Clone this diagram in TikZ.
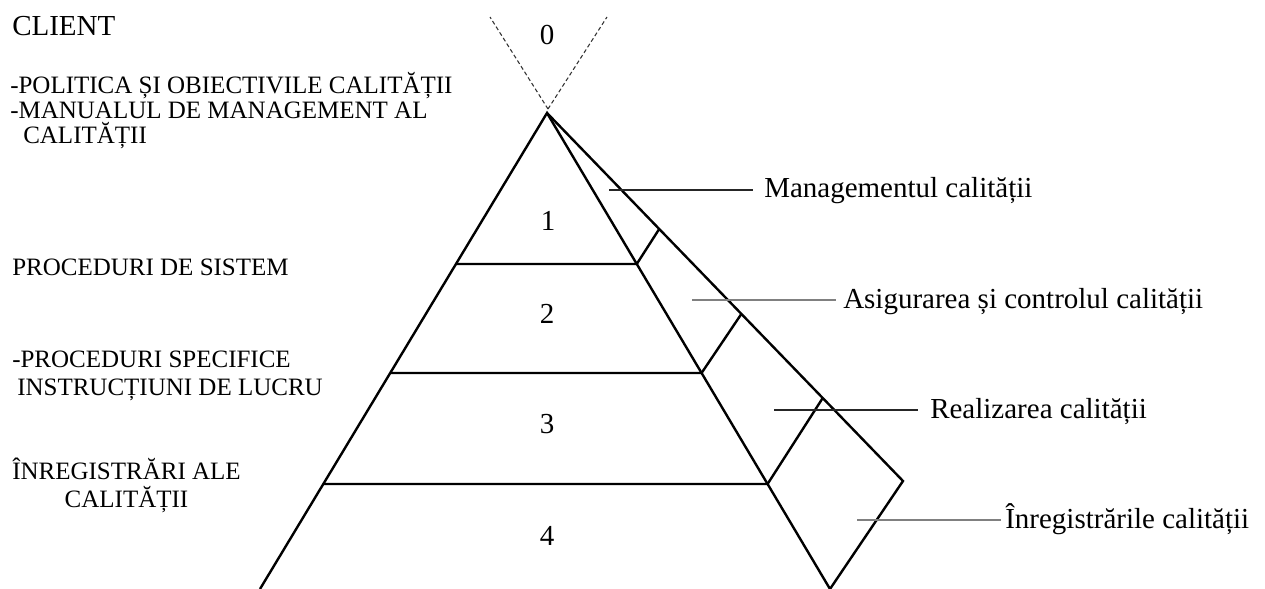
\documentclass[tikz,border=0pt]{standalone}
\usepackage{fontspec}
\setmainfont{Liberation Serif}
\usetikzlibrary{calc}
\begin{document}
\begin{tikzpicture}[x=0.75pt,y=-0.75pt,
  pyr/.style={line width=1.8pt, line join=miter, line cap=butt},
  dashv/.style={line width=0.8pt, dash pattern=on 3pt off 2pt, black!80},
  leaderdark/.style={line width=1.1pt, black!85},
  leadergray/.style={line width=1.2pt, black!50},
  num/.style={inner sep=0pt, anchor=base, font=\fontsize{21.75}{24}\selectfont},
  rlab/.style={inner ysep=0pt, anchor=base west, font=\fontsize{21.75}{24}\selectfont},
  llab/.style={inner sep=0pt, anchor=base west, font=\fontsize{18.75}{21}\selectfont}
]
\path[use as bounding box] (0,0) rectangle (1265,589);

% main points
\coordinate (A) at (547,113);
\coordinate (BL) at (260,589);
\coordinate (BR) at (830,589);
\coordinate (C) at (903,481);
\coordinate (V) at (548,109);
\coordinate (DL) at (490,17);
\coordinate (DR) at (607,17);

% dashed V
\draw[dashv] (V) -- (DL);
\draw[dashv] (V) -- (DR);

% pyramid
\draw[pyr] (BL) -- (A) -- (BR);
\draw[pyr] (A) -- (C) -- (BR);

\coordinate (L1) at ($(A)!0.3172!(BL)$);
\coordinate (R1) at ($(A)!0.3172!(BR)$);
\coordinate (O1) at ($(A)!0.3152!(C)$);
\coordinate (L2) at ($(A)!0.5462!(BL)$);
\coordinate (R2) at ($(A)!0.5462!(BR)$);
\coordinate (O2) at ($(A)!0.546!(C)$);
\coordinate (L3) at ($(A)!0.7794!(BL)$);
\coordinate (R3) at ($(A)!0.7794!(BR)$);
\coordinate (O3) at ($(A)!0.7745!(C)$);

\draw[pyr] (L1) -- (R1) -- (O1);
\draw[pyr] (L2) -- (R2) -- (O2);
\draw[pyr] (L3) -- (R3) -- (O3);

% level numbers
\node[num] (n0) at (547,45) {0};
\node[num] (n1) at (548,230) {1};
\node[num] (n2) at (547,323) {2};
\node[num] (n3) at (547,433) {3};
\node[num] (n4) at (547,545) {4};

% right labels with leaders
\node[rlab, inner xsep=8.25pt] (tm) at (753,197) {Managementul calității};
\node[rlab, inner xsep=5.25pt] (ta) at (836,308) {Asigurarea și controlul calității};
\node[rlab, inner xsep=9pt] (tr) at (918,418) {Realizarea calității};
\node[rlab, inner xsep=3pt] (ti) at (1001,528) {Înregistrările calității};

\coordinate (m1) at (609,190);
\coordinate (a1) at (692,300);
\coordinate (r1) at (774,410);
\coordinate (i1) at (857,520);

\draw[leaderdark] (m1) -- (m1 -| tm.west);
\draw[leadergray] (a1) -- (a1 -| ta.west);
\draw[leaderdark] (r1) -- (r1 -| tr.west);
\draw[leadergray] (i1) -- (i1 -| ti.west);

% left texts (base anchor of a multi-line node = last line's baseline)
\node[llab, font=\fontsize{21.75}{24}\selectfont] (client) at (12,36) {CLIENT};
\node[llab, align=left, font=\fontsize{18.75}{18.4}\selectfont] (pol) at (10,143)
  {-POLITICA ȘI OBIECTIVILE CALITĂȚII\\-MANUALUL DE MANAGEMENT AL\\\hspace{9.75pt}CALITĂȚII};
\node[llab] (proc) at (12,275) {PROCEDURI DE SISTEM};
\node[llab, align=left] (spec) at (12,395)
  {-PROCEDURI SPECIFICE\\\hspace{3.75pt}INSTRUCȚIUNI DE LUCRU};
\node[llab, align=center] (inreg) at (12,507)
  {ÎNREGISTRĂRI ALE\\CALITĂȚII};
\end{tikzpicture}
\end{document}
